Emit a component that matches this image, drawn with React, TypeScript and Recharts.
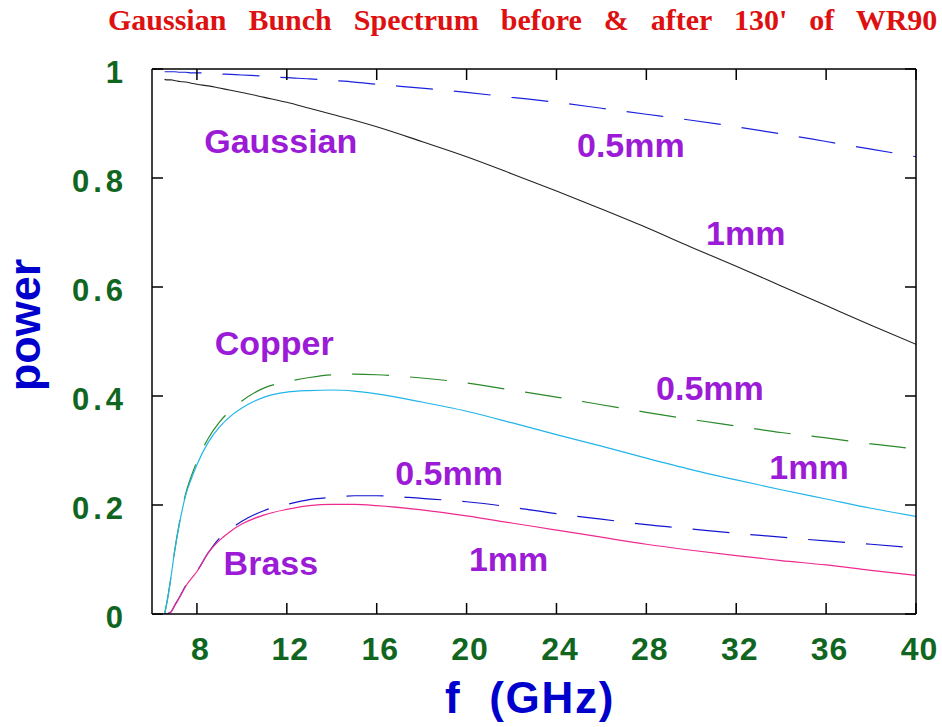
import React from "react";
import { LineChart, Line, XAxis, YAxis, ReferenceDot } from "recharts";

const freq = [6.56, 6.7, 6.85, 7, 7.25, 7.5, 7.75, 8, 8.5, 9, 9.5, 10, 11, 12, 13, 14, 15, 16, 18, 20, 22, 24, 26, 28, 30, 32, 34, 36, 38, 40];
const gauss05 = [0.995, 0.995, 0.995, 0.995, 0.994, 0.994, 0.993, 0.993, 0.992, 0.991, 0.99, 0.989, 0.987, 0.984, 0.982, 0.979, 0.976, 0.972, 0.965, 0.957, 0.948, 0.939, 0.928, 0.917, 0.906, 0.894, 0.881, 0.867, 0.853, 0.839];
const gauss1 = [0.981, 0.98, 0.98, 0.979, 0.977, 0.976, 0.974, 0.972, 0.969, 0.965, 0.961, 0.957, 0.948, 0.939, 0.928, 0.917, 0.906, 0.894, 0.867, 0.839, 0.808, 0.776, 0.743, 0.709, 0.673, 0.638, 0.602, 0.566, 0.53, 0.495];
const copper05 = [0, 0.03, 0.07, 0.114, 0.174, 0.221, 0.253, 0.28, 0.322, 0.352, 0.374, 0.391, 0.415, 0.426, 0.434, 0.439, 0.44, 0.439, 0.433, 0.424, 0.411, 0.398, 0.384, 0.37, 0.357, 0.345, 0.333, 0.323, 0.312, 0.303];
const copper1 = [0, 0.029, 0.069, 0.113, 0.172, 0.218, 0.248, 0.274, 0.315, 0.343, 0.363, 0.378, 0.398, 0.407, 0.41, 0.411, 0.409, 0.404, 0.389, 0.372, 0.351, 0.329, 0.308, 0.286, 0.265, 0.246, 0.228, 0.211, 0.194, 0.179];
const brass05 = [0, 0.001, 0.004, 0.015, 0.033, 0.052, 0.067, 0.079, 0.112, 0.139, 0.156, 0.17, 0.19, 0.201, 0.21, 0.214, 0.217, 0.217, 0.212, 0.206, 0.196, 0.184, 0.174, 0.164, 0.156, 0.148, 0.141, 0.134, 0.128, 0.121];
const brass1 = [0, 0.001, 0.004, 0.015, 0.032, 0.051, 0.065, 0.078, 0.112, 0.135, 0.152, 0.165, 0.182, 0.192, 0.199, 0.201, 0.201, 0.199, 0.191, 0.18, 0.167, 0.154, 0.141, 0.128, 0.117, 0.107, 0.098, 0.09, 0.08, 0.071];

const xTicks = [8, 12, 16, 20, 24, 28, 32, 36, 40];
const yTicks = [0, 0.2, 0.4, 0.6, 0.8, 1];

// curve annotations (text, f, power)
const noteText = ["Gaussian", "0.5mm", "1mm", "Copper", "0.5mm", "1mm", "0.5mm", "Brass", "1mm"];
const noteX = [11.73, 27.31, 32.42, 11.44, 30.83, 35.24, 19.22, 11.29, 21.87];
const noteY = [0.868, 0.861, 0.7, 0.497, 0.414, 0.269, 0.259, 0.093, 0.101];

const data = freq.map((f, i) => ({
  f,
  g05: gauss05[i],
  g1: gauss1[i],
  cu05: copper05[i],
  cu1: copper1[i],
  br05: brass05[i],
  br1: brass1[i],
}));

const GREEN = "#11661f";
const PURPLE = "#9b1bd6";
const BLUE = "#0000cc";
const TICK_LEN = 11;
const AXIS = { stroke: "#000", strokeWidth: 1.5 };

const BottomTick = (props: any) => {
  const { x, y, payload } = props;
  return (
    <g>
      <line x1={x} y1={y} x2={x} y2={y - TICK_LEN} stroke="#000" strokeWidth={1.5} />
      <text x={x + 3.5} y={y + 46} textAnchor="middle" fill={GREEN} fontSize={32} fontWeight="bold" fontFamily="Liberation Sans, Arial" letterSpacing={1}>
        {payload.value}
      </text>
    </g>
  );
};

const TopTick = (props: any) => {
  const { x, y } = props;
  return <line x1={x} y1={y} x2={x} y2={y + TICK_LEN} stroke="#000" strokeWidth={1.5} />;
};

const LeftTick = (props: any) => {
  const { x, y, payload } = props;
  return (
    <g>
      <line x1={x} y1={y} x2={x + TICK_LEN} y2={y} stroke="#000" strokeWidth={1.5} />
      <text x={x - 25} y={y + 13.5} textAnchor="end" fill={GREEN} fontSize={31} fontWeight="bold" fontFamily="Liberation Sans, Arial" letterSpacing={4}>
        {String(payload.value)}
      </text>
    </g>
  );
};

const RightTick = (props: any) => {
  const { x, y } = props;
  return <line x1={x} y1={y} x2={x - TICK_LEN} y2={y} stroke="#000" strokeWidth={1.5} />;
};

const Note = (props: any) => {
  const vb = props.viewBox || {};
  const cx = (vb.x || 0) + (vb.width || 0) / 2;
  const cy = (vb.y || 0) + (vb.height || 0) / 2;
  return (
    <text x={cx} y={cy + 0.355 * 34} textAnchor="middle" fill={PURPLE} fontSize={34} fontWeight="bold" fontFamily="Liberation Sans, Arial">
      {props.text}
    </text>
  );
};

export default function App() {
  return (
    <div style={{ position: "absolute", left: 0, top: 0, width: 942, height: 727, background: "#fff" }}>
      <LineChart
        width={942}
        height={727}
        data={data}
        margin={{ top: 68, right: 25, bottom: 63, left: 122 }}
      >
        <XAxis
          dataKey="f"
          type="number"
          domain={[6, 40]}
          ticks={xTicks}
          interval={0}
          height={50}
          tickSize={0}
          tickMargin={0}
          tickLine={false}
          axisLine={AXIS}
          tick={<BottomTick />}
          allowDataOverflow
        />
        <XAxis
          xAxisId="top"
          orientation="top"
          dataKey="f"
          type="number"
          domain={[6, 40]}
          ticks={xTicks}
          interval={0}
          height={1}
          tickSize={0}
          tickMargin={0}
          tickLine={false}
          axisLine={AXIS}
          tick={<TopTick />}
          allowDataOverflow
        />
        <YAxis
          type="number"
          domain={[0, 1]}
          ticks={yTicks}
          interval={0}
          width={30}
          tickSize={0}
          tickMargin={0}
          tickLine={false}
          axisLine={AXIS}
          tick={<LeftTick />}
          allowDataOverflow
        />
        <YAxis
          yAxisId="right"
          orientation="right"
          type="number"
          domain={[0, 1]}
          ticks={yTicks}
          interval={0}
          width={1}
          tickSize={0}
          tickMargin={0}
          tickLine={false}
          axisLine={AXIS}
          tick={<RightTick />}
          allowDataOverflow
        />
        <Line type="monotone" dataKey="g05" stroke="#1a22dd" strokeWidth={1.2} strokeDasharray="37 21" dot={false} isAnimationActive={false} />
        <Line type="monotone" dataKey="g1" stroke="#222" strokeWidth={1.1} dot={false} isAnimationActive={false} />
        <Line type="monotone" dataKey="cu05" stroke="#2a8a2a" strokeWidth={1.2} strokeDasharray="37 21" dot={false} isAnimationActive={false} />
        <Line type="monotone" dataKey="cu1" stroke="#22b5e8" strokeWidth={1.2} dot={false} isAnimationActive={false} />
        <Line type="monotone" dataKey="br05" stroke="#1515d0" strokeWidth={1.2} strokeDasharray="37 21" dot={false} isAnimationActive={false} />
        <Line type="monotone" dataKey="br1" stroke="#ee2a8f" strokeWidth={1.2} dot={false} isAnimationActive={false} />
        {noteText.map((t, i) => (
          <ReferenceDot
            key={i}
            x={noteX[i]}
            y={noteY[i]}
            r={0}
            fill="none"
            stroke="none"
            label={<Note text={t} />}
          />
        ))}
      </LineChart>
      <svg width={942} height={727} style={{ position: "absolute", left: 0, top: 0, pointerEvents: "none" }}>
        <text x={108} y={29.5} fill="#dd1111" fontSize={30} fontWeight="bold" fontFamily="Liberation Serif, Times New Roman" style={{ wordSpacing: 14.5 }}>
          Gaussian Bunch Spectrum before &amp; after 130' of WR90
        </text>
        <text x={445} y={713} fill={BLUE} fontSize={44} fontWeight="bold" fontFamily="Liberation Sans, Arial" letterSpacing={1.7} style={{ whiteSpace: "pre" }}>
          {"f  (GHz)"}
        </text>
        <text x={40} y={325} transform="rotate(-90 40 325)" textAnchor="middle" fill={BLUE} fontSize={45} fontWeight="bold" fontFamily="Liberation Sans, Arial">
          power
        </text>
      </svg>
    </div>
  );
}
